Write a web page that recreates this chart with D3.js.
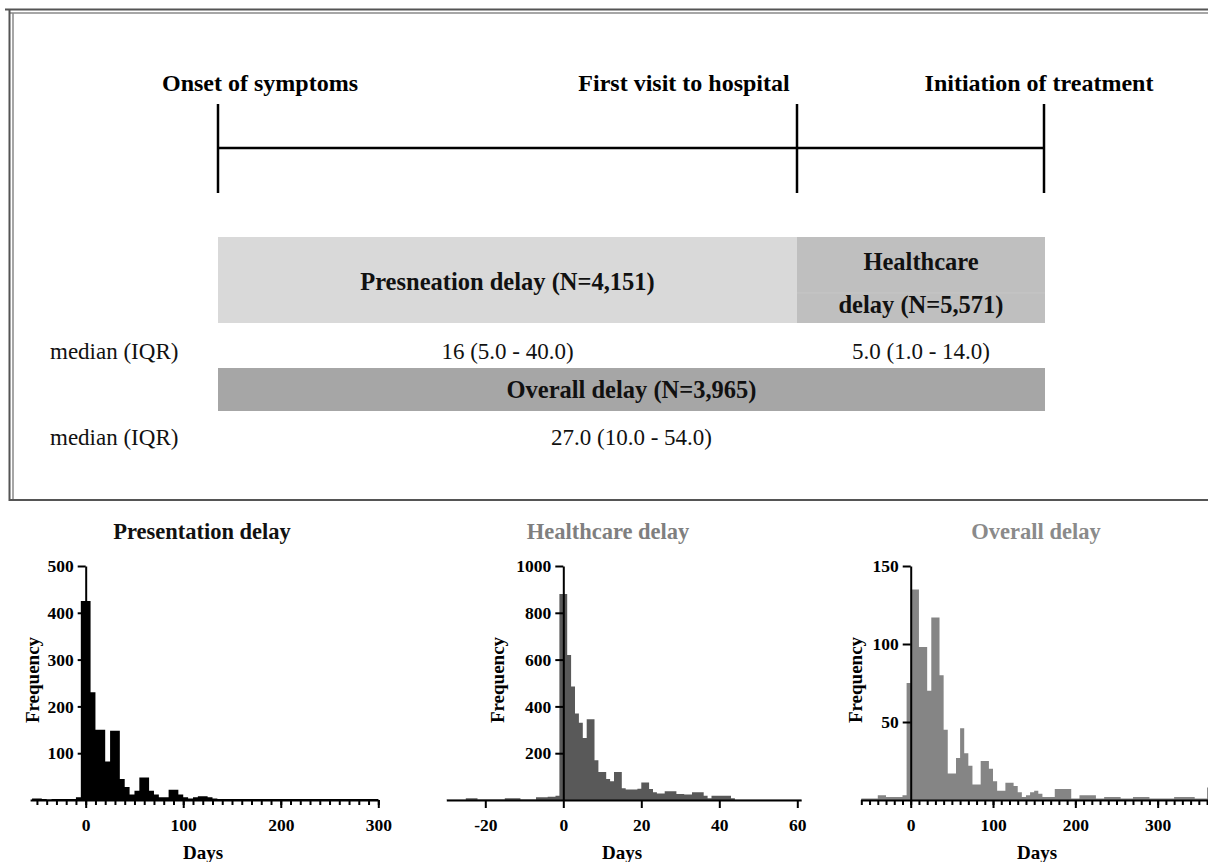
<!DOCTYPE html>
<html lang="en">
<head>
<meta charset="utf-8">
<title>Delay</title>
<script src="https://d3js.org/d3.v7.min.js"></script>
<style>
body { margin:0; background:#fff; }
svg text { font-family: "Liberation Serif", "Times New Roman", serif; }
.axis path, .axis line { stroke:#000; stroke-width:2px; }
</style>
</head>
<body>
<svg id="svgMain" width="1208" height="862"></svg>
<script>

// timeline milestones and delay table
var milestones = ["Onset of symptoms", "First visit to hospital", "Initiation of treatment"];
var rowLabel = "median (IQR)";
var presentationHead = "Presneation delay (N=4,151)";
var healthcareHead = ["Healthcare", "delay (N=5,571)"];
var overallHead = "Overall delay (N=3,965)";
var presentationMedian = "16 (5.0 - 40.0)";
var healthcareMedian = "5.0 (1.0 - 14.0)";
var overallMedian = "27.0 (10.0 - 54.0)";

// histogram titles
var histTitles = ["Presentation delay", "Healthcare delay", "Overall delay"];

// presentation delay: 5-day bins starting at -55
var presentStart = -55, presentWidth = 5;
var presentCounts = [3, 3, 2, 1, 2, 2, 2, 2, 2, 6,
  425, 425, 230, 150, 150, 82, 148, 148, 45, 28,
  12, 20, 48, 48, 20, 12, 6, 6, 22, 22,
  12, 6, 3, 6, 8, 8, 6, 3,
  2, 2, 2, 2, 2, 2, 2, 2, 2, 2, 2, 2, 2, 2, 2, 2, 2,
  2, 2, 2, 2, 2, 2, 2, 2, 2, 2, 2, 2, 2, 2, 2, 2];
var presentYTicks = [100, 200, 300, 400, 500];
var presentXTicks = [0, 100, 200, 300];

// healthcare delay: 1-day bins starting at -30
var careStart = -30, careWidth = 1;
var careCounts = [1, 1, 1, 1, 1, 8, 8, 8, 2, 2,
  2, 2, 2, 2, 2, 8, 8, 8, 8, 2,
  2, 2, 2, 12, 12, 12, 14, 14, 18, 880,
  880, 620, 485, 370, 330, 265, 345, 345, 170, 120,
  120, 90, 80, 120, 120, 50, 45, 45, 45, 48,
  75, 75, 47, 33, 28, 28, 37, 37, 37, 26,
  26, 23, 23, 33, 33, 33, 18, 8, 18, 18,
  18, 18, 18, 7, 1, 1, 1, 1, 1, 1,
  1, 1, 1, 1, 1, 1, 1, 1, 1, 1, 1];
var careYTicks = [200, 400, 600, 800, 1000];
var careXTicks = [-20, 0, 20, 40, 60];

// overall delay: 5-day bins starting at -60
var overallStart = -60, overallWidth = 5;
var overallCounts = [1, 1, 1, 1, 3, 3, 2, 2, 2, 2, 3, 75,
  135, 135, 98, 98, 70, 117, 117, 80, 45, 17,
  17, 27, 46, 30, 22, 10, 10, 25, 25, 20,
  12, 6, 6, 11, 11, 9, 5, 2, 3, 5,
  6, 4, 2, 2, 2, 7, 7, 7, 7, 1,
  1, 3, 3, 3, 3, 1, 1, 2, 2, 2,
  2, 1, 1, 1, 2, 2, 2, 2, 1, 1,
  1, 1, 1, 1, 2, 2, 2, 2, 2, 1,
  1, 1, 8];
var overallYTicks = [50, 100, 150];
var overallXTicks = [0, 100, 200, 300];

var svg = d3.select("svg");
var serif = "Liberation Serif, Times New Roman, serif";

// ---------- top panel ----------
var frame = svg.append("g");
frame.append("line").attr("x1", 5).attr("x2", 1208).attr("y1", 9.5).attr("y2", 9.5)
  .attr("stroke", "#555").attr("stroke-width", 2);
frame.append("line").attr("x1", 9).attr("x2", 1208).attr("y1", 13).attr("y2", 13)
  .attr("stroke", "#888").attr("stroke-width", 1.5);
frame.append("line").attr("x1", 9.5).attr("x2", 9.5).attr("y1", 9).attr("y2", 501)
  .attr("stroke", "#555").attr("stroke-width", 2);
frame.append("line").attr("x1", 13).attr("x2", 13).attr("y1", 13).attr("y2", 500)
  .attr("stroke", "#888").attr("stroke-width", 1.5);
frame.append("line").attr("x1", 9).attr("x2", 1208).attr("y1", 500).attr("y2", 500)
  .attr("stroke", "#555").attr("stroke-width", 2);

// timeline positions for the three milestones
var stage = d3.scaleOrdinal().domain(milestones).range([218, 797, 1044]);
var labelX = d3.scaleOrdinal().domain(milestones).range([260, 684, 1039]);

var tl = svg.append("g");
tl.append("line")
  .attr("x1", stage(milestones[0])).attr("x2", stage(milestones[2]))
  .attr("y1", 148).attr("y2", 148)
  .attr("stroke", "#000").attr("stroke-width", 2.5);
tl.selectAll(".tick-v")
  .data(milestones).enter()
  .append("line")
  .attr("x1", function(d) { return stage(d); })
  .attr("x2", function(d) { return stage(d); })
  .attr("y1", 104).attr("y2", 193)
  .attr("stroke", "#000").attr("stroke-width", 2.5);
tl.selectAll(".ms")
  .data(milestones).enter()
  .append("text")
  .attr("x", function(d) { return labelX(d); })
  .attr("y", 83)
  .attr("dy", "0.35em")
  .attr("text-anchor", "middle")
  .attr("font-size", 24)
  .attr("font-weight", "bold")
  .text(function(d) { return d; });

// boxes
var tb = svg.append("g");
var x0 = stage(milestones[0]), x1 = stage(milestones[1]), x2 = stage(milestones[2]) + 1;
tb.append("rect").attr("x", x0).attr("y", 237).attr("width", x1 - x0).attr("height", 86).attr("fill", "#d9d9d9");
tb.append("rect").attr("x", x1).attr("y", 237).attr("width", x2 - x1).attr("height", 86).attr("fill", "#bfbfbf");
tb.append("line").attr("x1", x1).attr("x2", x2).attr("y1", 293).attr("y2", 293).attr("stroke", "#c6c6c6").attr("stroke-width", 1);
tb.append("rect").attr("x", x0).attr("y", 368).attr("width", x2 - x0).attr("height", 43).attr("fill", "#a6a6a6");

function label(x, y, txt, bold, anchor) {
  tb.append("text")
    .attr("x", x).attr("y", y).attr("dy", "0.35em")
    .attr("text-anchor", anchor || "middle")
    .attr("font-size", bold ? 24.5 : 23)
    .attr("font-weight", bold ? "bold" : "normal")
    .attr("fill", "#111")
    .text(txt);
}
label((x0 + x1) / 2, 281, presentationHead, true);
label((x1 + x2) / 2, 261, healthcareHead[0], true);
label((x1 + x2) / 2, 304, healthcareHead[1], true);
label(50, 351, rowLabel, false, "start");
label((x0 + x1) / 2, 351, presentationMedian, false);
label((x1 + x2) / 2, 351, healthcareMedian, false);
label((x0 + x2) / 2, 389, overallHead, true);
label(50, 437, rowLabel, false, "start");
label((x0 + x2) / 2, 437, overallMedian, false);

// ---------- histograms ----------
function histogram(o) {
  var g = svg.append("g");
  var x = d3.scaleLinear().domain(o.xDomain).range(o.xRange);
  var y = d3.scaleLinear().domain([0, o.yMax]).range([800, 566]);
  var pts = o.counts.map(function(c, i) {
    return { x: o.start + i * o.width, n: c };
  });
  // closing point at the right edge of the last bin
  pts.push({ x: o.start + o.counts.length * o.width, n: o.counts[o.counts.length - 1] });

  g.append("defs").append("clipPath").attr("id", o.id)
    .append("rect").attr("x", o.xRange[0]).attr("y", 500)
    .attr("width", o.xRange[1] - o.xRange[0]).attr("height", 320);

  var area = d3.area()
    .curve(d3.curveStepAfter)
    .x(function(d) { return x(d.x); })
    .y0(y(0))
    .y1(function(d) { return y(d.n); });

  g.append("path")
    .datum(pts)
    .attr("clip-path", "url(#" + o.id + ")")
    .attr("d", area)
    .attr("fill", o.fill);

  if (o.minor) {
    g.append("g")
      .attr("class", "axis")
      .attr("transform", "translate(0," + y(0) + ")")
      .call(d3.axisBottom(x).tickValues(o.minor).tickSize(5).tickFormat(""))
      .select(".domain").remove();
  }

  var fmt = function(d) { return String(d); };

  g.append("g")
    .attr("class", "axis")
    .attr("transform", "translate(0," + y(0) + ")")
    .call(d3.axisBottom(x).tickValues(o.xTicks).tickSize(8).tickSizeOuter(0).tickPadding(11).tickFormat(fmt))
    .attr("font-family", serif).attr("font-size", 17.5).attr("font-weight", "bold");

  g.append("g")
    .attr("class", "axis")
    .attr("transform", "translate(" + x(0) + ",0)")
    .call(d3.axisLeft(y).tickValues(o.yTicks).tickSize(8).tickSizeOuter(0).tickPadding(4).tickFormat(fmt))
    .attr("font-family", serif).attr("font-size", 17.5).attr("font-weight", "bold");

  g.selectAll(".axis text").attr("fill", "#000");

  svg.append("text")
    .attr("x", o.titleX).attr("y", 531).attr("dy", "0.35em")
    .attr("text-anchor", "middle").attr("font-size", 22.5).attr("font-weight", "bold")
    .attr("fill", o.titleColor)
    .text(o.title);

  svg.append("text")
    .attr("x", o.daysX).attr("y", 852).attr("dy", "0.35em")
    .attr("text-anchor", "middle").attr("font-size", 19).attr("font-weight", "bold")
    .text("Days");

  svg.append("text")
    .attr("transform", "translate(" + o.freqX + ",680) rotate(-90)")
    .attr("dy", "0.35em")
    .attr("text-anchor", "middle").attr("font-size", 19).attr("font-weight", "bold")
    .text("Frequency");
}

histogram({
  id: "c1", counts: presentCounts, start: presentStart, width: presentWidth,
  xDomain: [-57, 300], xRange: [30.1, 378.3], yMax: 500,
  yTicks: presentYTicks, xTicks: presentXTicks, minor: d3.range(-50, 301, 10),
  fill: "#000", title: histTitles[0], titleColor: "#111",
  titleX: 202, daysX: 203, freqX: 32
});

histogram({
  id: "c2", counts: careCounts, start: careStart, width: careWidth,
  xDomain: [-30, 61], xRange: [446.3, 801.2], yMax: 1000,
  yTicks: careYTicks, xTicks: careXTicks, minor: null,
  fill: "#595959", title: histTitles[1], titleColor: "#7f7f7f",
  titleX: 608, daysX: 622, freqX: 497
});

histogram({
  id: "c3", counts: overallCounts, start: overallStart, width: overallWidth,
  xDomain: [-61, 362], xRange: [860.5, 1208.7], yMax: 150,
  yTicks: overallYTicks, xTicks: overallXTicks, minor: d3.range(-60, 361, 10),
  fill: "#858585", title: histTitles[2], titleColor: "#8a8a8a",
  titleX: 1036, daysX: 1037, freqX: 855
});

</script>
</body>
</html>
